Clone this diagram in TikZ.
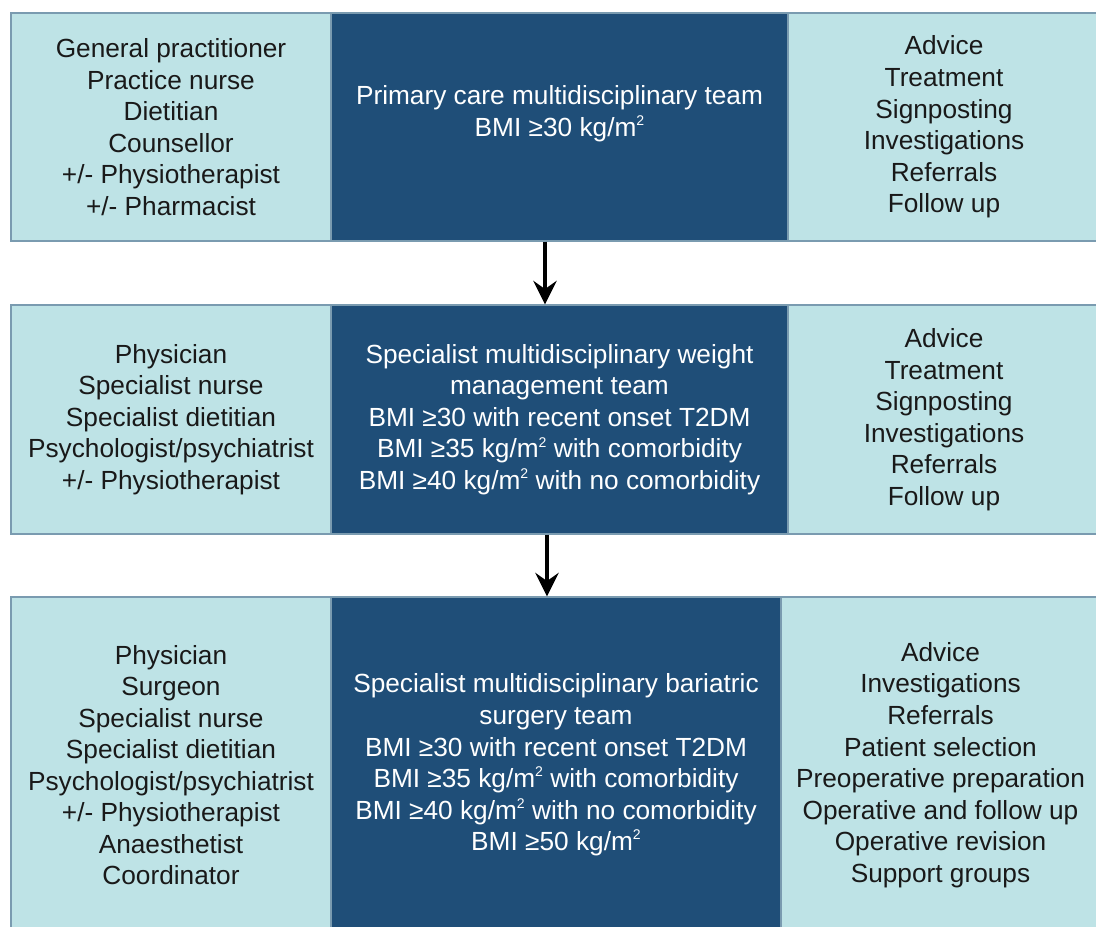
\documentclass[tikz,border=0pt]{standalone}
\usepackage{fontspec}
\setmainfont{Liberation Sans}
\usetikzlibrary{arrows.meta}

\definecolor{paleteal}{HTML}{BEE3E6}
\definecolor{navyblue}{HTML}{1F4E78}
\definecolor{edgegray}{HTML}{7A9BB0}

\newcommand{\persq}{kg/m\raisebox{4.6pt}{\fontsize{6}{6}\selectfont 2}}

\tikzset{every path/.style={line width=0.6pt}}

\begin{document}
\begin{tikzpicture}[x=0.015cm,y=-0.015cm,
    panel/.style={draw=edgegray,rectangle,inner sep=0pt,align=center,
      font=\fontsize{11.2}{13.45}\selectfont},
    light/.style={panel,fill=paleteal,text=black!90},
    dark/.style={panel,fill=navyblue,text=white},
    flow/.style={line width=1.8pt,-{Stealth[length=10pt,width=10pt,inset=3.5pt]}}]
  \useasboundingbox (0,0) rectangle (1096,927);
  % primary care
  \node[light,minimum width=4.8cm,minimum height=3.42cm] (gpstaff) at (171,127)
    {General practitioner\\Practice nurse\\Dietitian\\Counsellor\\+/- Physiotherapist\\+/- Pharmacist};
  \node[dark,minimum width=6.855cm,minimum height=3.42cm] (primary) at (559.5,127)
    {Primary care multidisciplinary team\\BMI ≥30 \persq\\ \mbox{}};
  \node[light,minimum width=4.68cm,minimum height=3.42cm] (gptasks) at (944,127)
    {Advice\\Treatment\\Signposting\\Investigations\\Referrals\\Follow up};
  % specialist weight management
  \node[light,minimum width=4.8cm,minimum height=3.435cm] (wmstaff) at (171,419.5)
    {Physician\\Specialist nurse\\Specialist dietitian\\Psychologist/psychiatrist\\+/- Physiotherapist};
  \node[dark,minimum width=6.855cm,minimum height=3.435cm] (weight) at (559.5,419.5)
    {Specialist multidisciplinary weight\\management team\\BMI ≥30 with recent onset T2DM\\BMI ≥35 \persq{} with comorbidity\\BMI ≥40 \persq{} with no comorbidity};
  \node[light,minimum width=4.68cm,minimum height=3.435cm] (wmtasks) at (944,419.5)
    {Advice\\Treatment\\Signposting\\Investigations\\Referrals\\Follow up};
  % bariatric surgery
  \node[light,minimum width=4.8cm,minimum height=5.04cm] (bsstaff) at (171,765)
    {Physician\\Surgeon\\Specialist nurse\\Specialist dietitian\\Psychologist/psychiatrist\\+/- Physiotherapist\\Anaesthetist\\Coordinator};
  \node[dark,minimum width=6.75cm,minimum height=5.04cm] (bariatric) at (556,765)
    {Specialist multidisciplinary bariatric\\surgery team\\BMI ≥30 with recent onset T2DM\\BMI ≥35 \persq{} with comorbidity\\BMI ≥40 \persq{} with no comorbidity\\BMI ≥50 \persq};
  \node[light,minimum width=4.785cm,minimum height=5.04cm] (bstasks) at (940.5,765)
    {Advice\\Investigations\\Referrals\\Patient selection\\Preoperative preparation\\Operative and follow up\\Operative revision\\Support groups};
  % arrows
  \coordinate (down1) at (545,0);
  \coordinate (down2) at (547,0);
  \draw[flow] (primary.south -| down1) -- (weight.north -| down1);
  \draw[flow] (weight.south -| down2) -- (bariatric.north -| down2);
\end{tikzpicture}
\end{document}
